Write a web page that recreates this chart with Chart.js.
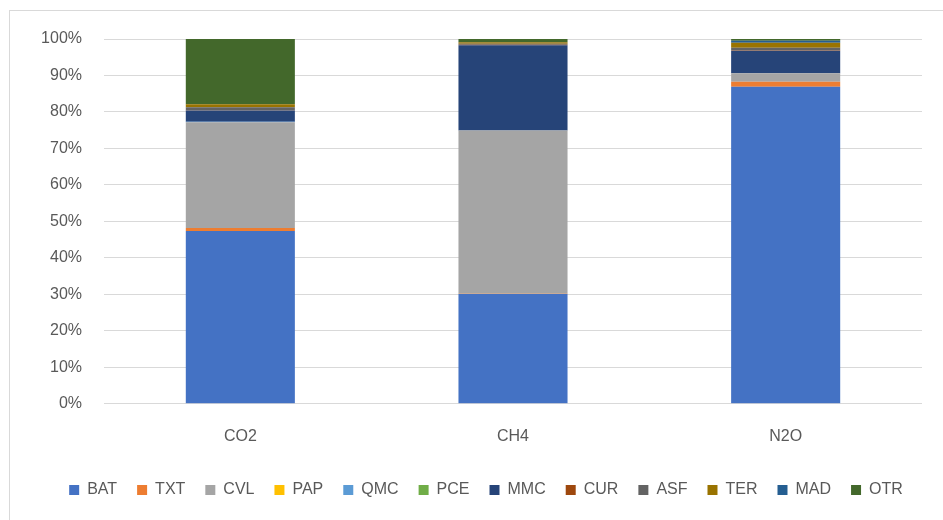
<!DOCTYPE html>
<html>
<head>
<meta charset="utf-8">
<script src="https://cdn.jsdelivr.net/npm/chart.js@4/dist/chart.umd.min.js"></script>
<style>
  html, body { margin: 0; padding: 0; background: #fff; }
  #wrap { position: absolute; left: 0; top: 0; width: 943px; height: 520px; }
  #frame { position: absolute; left: 9px; top: 10px; width: 940px; height: 520px; border: 1px solid #d9d9d9; box-sizing: border-box; pointer-events: none; }
</style>
</head>
<body>
<div id="frame"></div>
<div id="wrap"><canvas id="chart"></canvas></div>
<script>
// categorias e séries (percentual de cada gás)
const gases = ['CO2', 'CH4', 'N2O']
const BAT = [47.4, 30.1, 86.9]
const TXT = [0.8, 0.1, 1.4]
const CVL = [29.0, 44.7, 2.3]
const PAP = [0.0, 0.0, 0.0]
const QMC = [0.1, 0.0, 0.0]
const PCE = [0.0, 0.0, 0.0]
const MMC = [3.1, 23.4, 6.2]
const CUR = [0.1, 0.1, 0.1]
const ASF = [0.8, 0.3, 0.7]
const TER = [0.8, 0.4, 1.4]
const MAD = [0.0, 0.1, 0.5]
const OTR = [17.9, 0.8, 0.5]
const yTicks = [0, 10, 20, 30, 40, 50, 60, 70, 80, 90, 100]

const series = [
  ['BAT', BAT, '#4472C4'],
  ['TXT', TXT, '#ED7D31'],
  ['CVL', CVL, '#A5A5A5'],
  ['PAP', PAP, '#FFC000'],
  ['QMC', QMC, '#5B9BD5'],
  ['PCE', PCE, '#70AD47'],
  ['MMC', MMC, '#264478'],
  ['CUR', CUR, '#9E480E'],
  ['ASF', ASF, '#636363'],
  ['TER', TER, '#997300'],
  ['MAD', MAD, '#255E91'],
  ['OTR', OTR, '#43682B']
]

const font = 'Liberation Sans'
const textColor = '#595959'

// desloca a legenda um pouco para a direita, como no original
const shiftLegend = {
  id: 'shiftLegend',
  afterLayout(chart) {
    chart.legend.left += 20
    chart.legend.right += 20
  }
}

new Chart(document.getElementById('chart'), {
  type: 'bar',
  data: {
    labels: gases,
    datasets: series.map(([label, data, color]) => ({
      label,
      data,
      backgroundColor: color,
      borderWidth: 0,
      categoryPercentage: 0.4,
      barPercentage: 1
    }))
  },
  plugins: [shiftLegend],
  options: {
    responsive: true,
    maintainAspectRatio: false,
    animation: false,
    layout: { padding: { left: 10, right: 21, top: 39, bottom: 12 } },
    plugins: {
      legend: {
        position: 'bottom',
        labels: {
          boxWidth: 10,
          boxHeight: 10,
          padding: 20,
          color: textColor,
          font: { family: font, size: 16 }
        }
      },
      tooltip: { enabled: false }
    },
    scales: {
      x: {
        stacked: true,
        grid: { display: false },
        border: { display: false },
        afterFit: scale => { scale.height += 1 },
        ticks: { color: textColor, padding: 15, font: { family: font, size: 16 } }
      },
      y: {
        stacked: true,
        min: 0,
        max: 100,
        afterBuildTicks: scale => { scale.ticks = yTicks.map(v => ({ value: v })) },
        afterFit: scale => { scale.width = 94 },
        grid: { color: '#d9d9d9', lineWidth: 1, drawTicks: false },
        border: { display: false },
        ticks: {
          color: textColor,
          padding: 22,
          font: { family: font, size: 16 },
          callback: v => v + '%'
        }
      }
    }
  }
})
</script>
</body>
</html>
